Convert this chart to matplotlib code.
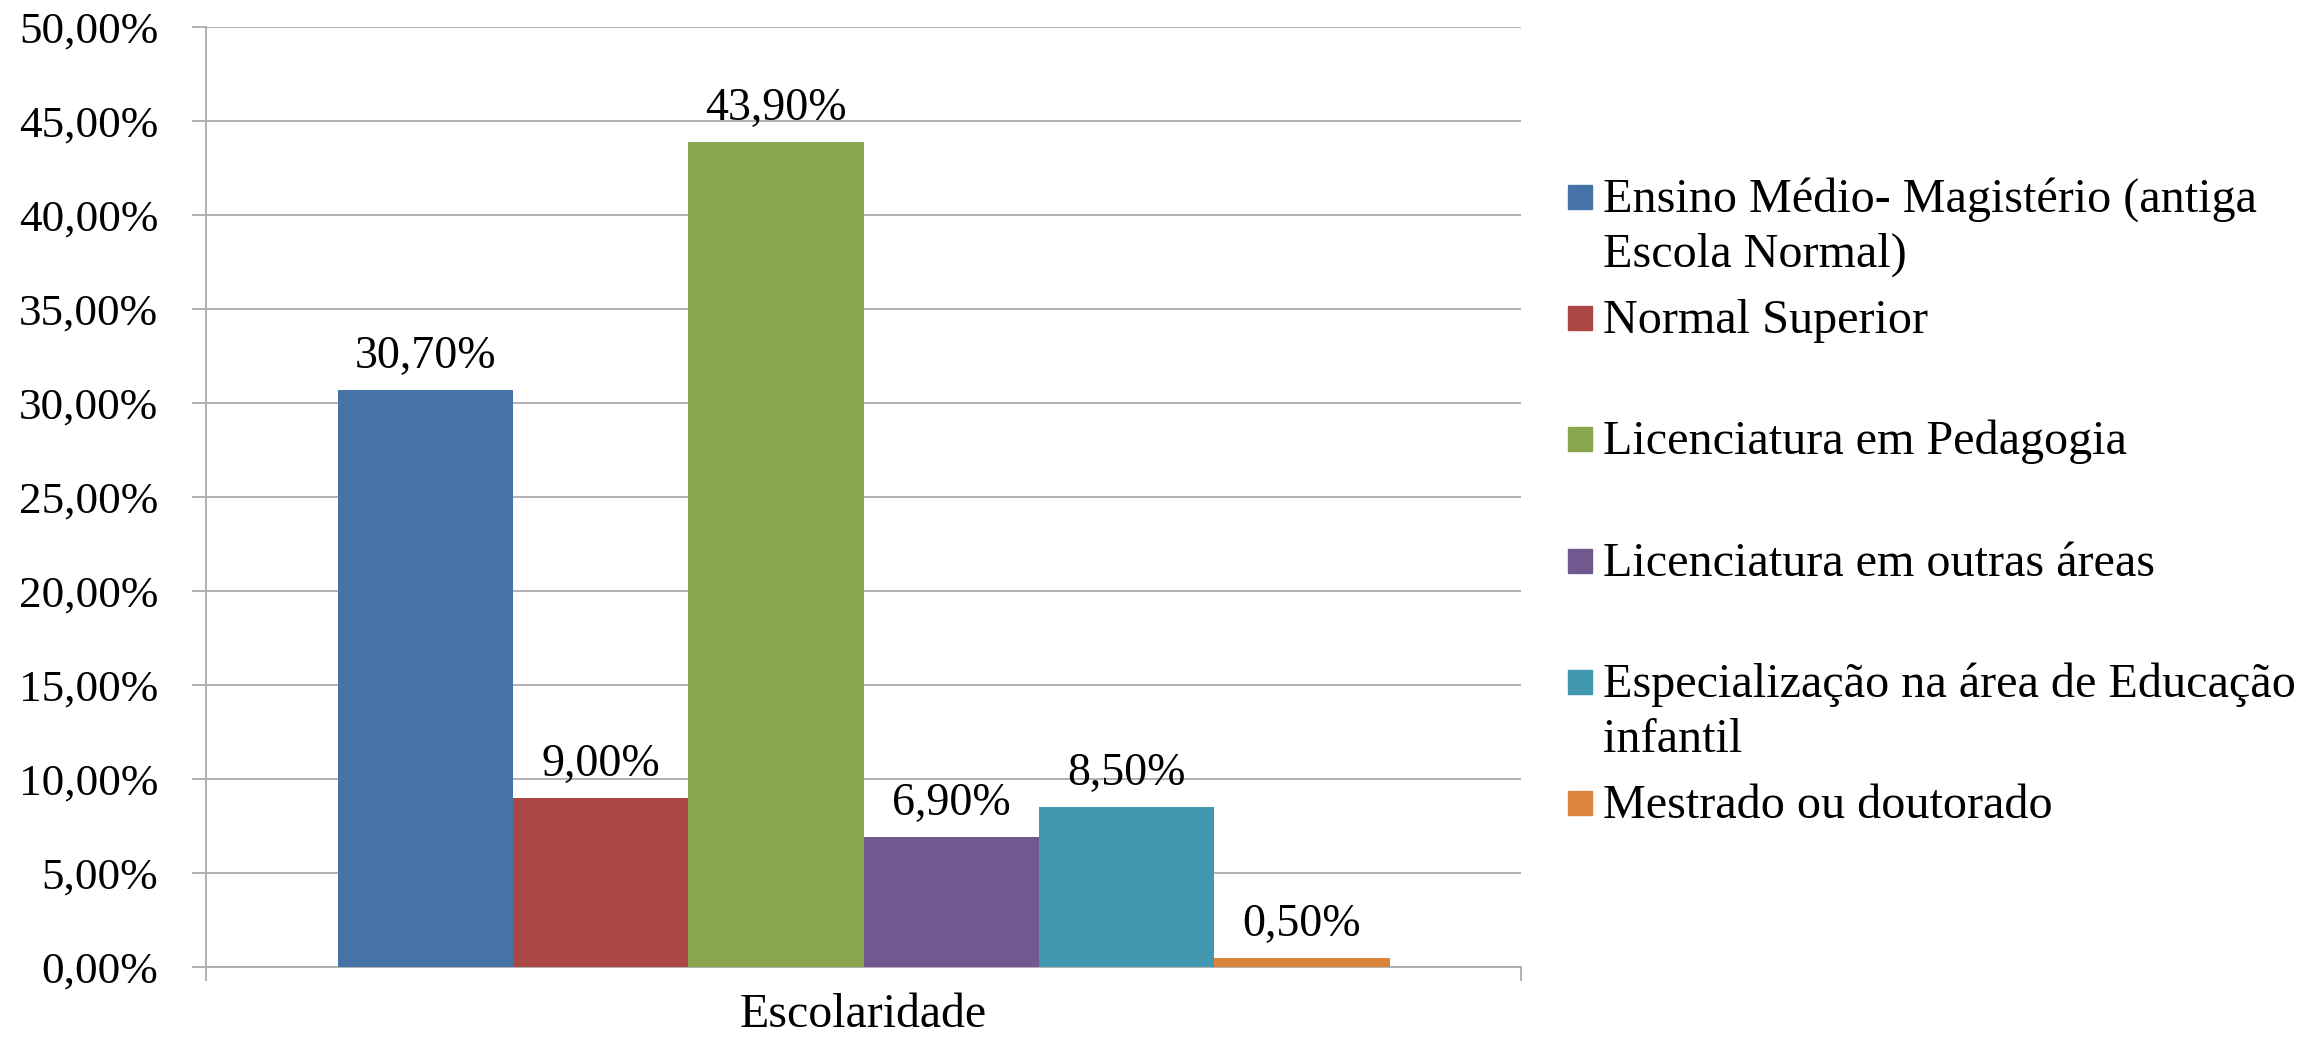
import matplotlib
matplotlib.use("Agg")
import matplotlib.pyplot as plt
from matplotlib.patches import Rectangle

# data
categories = [
    "Ensino Médio- Magistério (antiga\nEscola Normal)",
    "Normal Superior",
    "Licenciatura em Pedagogia",
    "Licenciatura em outras áreas",
    "Especialização na área de Educação\ninfantil",
    "Mestrado ou doutorado",
]
values = [30.7, 9.0, 43.9, 6.9, 8.5, 0.5]
colors = ["#4572A7", "#AA4643", "#89A54E", "#71588F", "#4198AF", "#DB843D"]
group_label = "Escolaridade"
y_ticks = [0, 5, 10, 15, 20, 25, 30, 35, 40, 45, 50]


def pct(v):
    return ("%.2f%%" % v).replace(".", ",")


plt.rcParams["font.family"] = ["Liberation Serif", "DejaVu Serif"]
plt.rcParams["font.size"] = 33

W, H = 2321, 1042
fig = plt.figure(figsize=(W / 100, H / 100), dpi=100)
ax = fig.add_axes([206 / W, (H - 967) / H, 1315 / W, 940 / H])

grid_c = "#ababab"
px = 72 / 100  # points per pixel

n = len(values)
w = 1 / (n + 1.5)
x0 = 0.75 * w
for i, (v, c) in enumerate(zip(values, colors)):
    xc = x0 + w * (i + 0.5)
    ax.bar(xc, v, width=w, color=c, edgecolor="none", zorder=3)
    ax.annotate(pct(v), (xc, v), xytext=(0, 22 * px), textcoords="offset points",
                ha="center", va="baseline", fontsize=33)

ax.set_xlim(0, 1)
ax.set_ylim(0, 50)
ax.set_yticks(y_ticks)
ax.set_yticklabels([pct(t) for t in y_ticks], fontsize=32.5)
ax.yaxis.grid(True, color=grid_c, linewidth=1.3)
ax.set_axisbelow(True)
ax.tick_params(axis="y", direction="out", length=14 * px, width=1.3,
               color=grid_c, pad=34 * px)

ax.set_xticks([0.5])
ax.set_xticklabels([group_label], fontsize=34.5)
ax.set_xticks([0, 1], minor=True)
ax.tick_params(axis="x", which="major", length=0, pad=26 * px)
ax.tick_params(axis="x", which="minor", direction="out", length=14 * px,
               width=1.3, color=grid_c)

for s in ["top", "right"]:
    ax.spines[s].set_visible(False)
for s in ["left", "bottom"]:
    ax.spines[s].set_color(grid_c)
    ax.spines[s].set_linewidth(1.3)

# legend drawn by hand to follow the original's spacing
for i, (lab, c) in enumerate(zip(categories, colors)):
    cy = 197 + 121.2 * i
    fig.patches.append(Rectangle((1568 / W, 1 - (cy + 12) / H), 24 / W, 24 / H,
                                 transform=fig.transFigure, color=c))
    for k, line in enumerate(lab.split("\n")):
        fig.text(1603 / W, 1 - (cy + 15 + 55 * k) / H, line,
                 ha="left", va="baseline", fontsize=34.7)

fig.savefig("out.png", dpi=100)
